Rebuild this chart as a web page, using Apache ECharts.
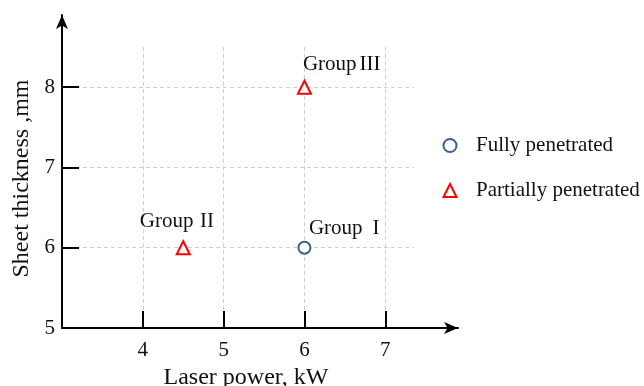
<!DOCTYPE html>
<html>
<head>
<meta charset="utf-8">
<script src="https://cdn.jsdelivr.net/npm/echarts@6/dist/echarts.min.js"></script>
<style>html,body{margin:0;padding:0;background:#fff}#c{width:644px;height:386px}</style>
</head>
<body>
<div id="c"></div>
<script>
// ---- data ----
const seriesNames = ['Fully penetrated', 'Partially penetrated'];
const fullyX = [6];
const fullyY = [6];
const fullyGroups = ['I'];
const partialX = [4.5, 6];
const partialY = [6, 8];
const partialGroups = ['II', 'III'];
const xTicks = [4, 5, 6, 7];
const yTicks = [5, 6, 7, 8];
const yTickMarks = [6, 7, 8];
const xName = 'Laser power, kW';
const yName = 'Sheet thickness ,mm';

const FONT = '"Liberation Serif", "Times New Roman", serif';
const BLUE = '#36618f';
const RED = '#ff0000';

const chart = echarts.init(document.getElementById('c'), null, {renderer: 'canvas'});

const labelRich = {
  g: {fontFamily: FONT, fontSize: 21, color: '#111'},
  n: {fontFamily: FONT, fontSize: 21, color: '#111', width: 21, align: 'center'}
};
const groupFormatter = p => '{g|Group} {n|' + p.name + '}';

const fullyLabelPos = [[11.5, -12.5]];
const partialLabelPos = [[-36, -19], [6, -15]];

const fullyData = fullyX.map((x, i) => ({value: [x, fullyY[i]], name: fullyGroups[i],
  label: {position: fullyLabelPos[i]}}));
const partialData = partialX.map((x, i) => ({value: [x, partialY[i]], name: partialGroups[i],
  label: {position: partialLabelPos[i]}}));

const option = {
  animation: false,
  backgroundColor: '#fff',
  textStyle: {fontFamily: FONT},
  grid: [
    {left: 62, bottom: 58, width: 396, top: 15, containLabel: false, outerBoundsMode: 'none'},
    {left: 62, bottom: 58, width: 351.5, top: 47, containLabel: false, outerBoundsMode: 'none'}
  ],
  legend: {
    orient: 'vertical',
    left: 437.5, top: 130,
    itemWidth: 13, itemHeight: 13, itemGap: 24,
    textStyle: {fontFamily: FONT, fontSize: 21, color: '#111', padding: [0, 0, 0, 14.5]},
    data: [
      {name: seriesNames[0], icon: 'emptyCircle', itemStyle: {color: BLUE, borderColor: BLUE, borderWidth: 2.5}},
      {name: seriesNames[1], icon: 'emptyTriangle', itemStyle: {color: RED, borderColor: RED, borderWidth: 3}}
    ]
  },
  xAxis: [
    {
      gridIndex: 0, type: 'value', min: 3, max: 7.9, interval: 1,
      name: xName, nameLocation: 'middle', nameGap: 33,
      nameTextStyle: {fontFamily: FONT, fontSize: 24, color: '#111', padding: [0, 28, 0, 0]},
      axisLine: {show: true, onZero: false, symbol: ['none', 'arrow'], symbolSize: [9, 14],
        lineStyle: {color: '#000', width: 2}},
      axisTick: {show: true, inside: true, length: 17, customValues: xTicks,
        lineStyle: {color: '#000', width: 2}},
      axisLabel: {customValues: xTicks, margin: 12, fontFamily: FONT, fontSize: 21, color: '#111'},
      splitLine: {show: false}
    },
    {
      gridIndex: 1, type: 'value', min: 3, max: 7.35, interval: 1,
      axisLine: {show: false}, axisTick: {show: false}, axisLabel: {show: false},
      splitLine: {show: true, showMinLine: false, showMaxLine: false,
        lineStyle: {color: '#cfcfcf', type: [4, 3], width: 1}}
    }
  ],
  yAxis: [
    {
      gridIndex: 0, type: 'value', min: 5, max: 8.9, interval: 1,
      name: '{t|' + yName + '}{s| }', nameLocation: 'middle', nameGap: 26, nameRotate: 90,
      nameTextStyle: {fontFamily: FONT, fontSize: 24, color: '#111',
        rich: {t: {fontFamily: FONT, fontSize: 24, color: '#111'}, s: {width: 14, fontSize: 24}}},
      axisLine: {show: true, onZero: false, symbol: ['none', 'arrow'], symbolSize: [9, 14],
        lineStyle: {color: '#000', width: 2}},
      axisTick: {show: true, inside: true, length: 17, customValues: yTickMarks,
        lineStyle: {color: '#000', width: 2}},
      axisLabel: {customValues: yTicks, margin: 7, fontFamily: FONT, fontSize: 21, color: '#111'},
      splitLine: {show: false}
    },
    {
      gridIndex: 1, type: 'value', min: 5, max: 8.5, interval: 1,
      axisLine: {show: false}, axisTick: {show: false}, axisLabel: {show: false},
      splitLine: {show: true, showMinLine: false, showMaxLine: false,
        lineStyle: {color: '#cfcfcf', type: [4, 3], width: 1}}
    }
  ],
  series: [
    {
      name: seriesNames[0], type: 'scatter', xAxisIndex: 0, yAxisIndex: 0,
      symbol: 'emptyCircle', symbolSize: 12,
      itemStyle: {color: BLUE, borderColor: BLUE, borderWidth: 2.5, opacity: 1},
      label: {show: true, formatter: groupFormatter, align: 'left', verticalAlign: 'middle', rich: labelRich},
      data: fullyData, z: 5
    },
    {
      name: seriesNames[1], type: 'scatter', xAxisIndex: 0, yAxisIndex: 0,
      symbol: 'emptyTriangle', symbolSize: 13,
      itemStyle: {color: RED, borderColor: RED, borderWidth: 3, opacity: 1},
      label: {show: true, formatter: groupFormatter, align: 'left', verticalAlign: 'middle', rich: labelRich},
      data: partialData, z: 5
    }
  ]
};
chart.setOption(option);
</script>
</body>
</html>
